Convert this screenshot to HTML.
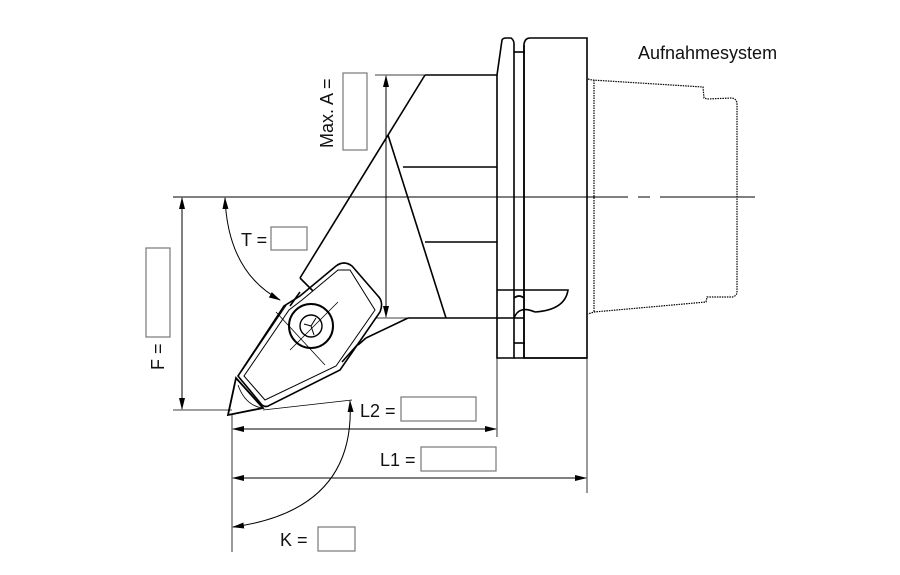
<!DOCTYPE html>
<html><head><meta charset="utf-8"><style>
html,body{margin:0;padding:0;background:#fff;}
svg{display:block;}
text{font-family:"Liberation Sans","DejaVu Sans",sans-serif;fill:#111;}
</style></head><body>
<svg width="900" height="575" viewBox="0 0 900 575" xmlns="http://www.w3.org/2000/svg">
<defs>
<marker id="a" markerWidth="12" markerHeight="6" refX="11" refY="3" orient="auto-start-reverse" markerUnits="userSpaceOnUse">
<path d="M0,0 L12,3 L0,6 z" fill="#000"/></marker>
</defs>
<g fill="none" stroke="#000" stroke-width="1">
<line x1="173" y1="197" x2="628" y2="197"/>
<line x1="638" y1="197" x2="650" y2="197"/>
<line x1="660" y1="197" x2="755" y2="197"/>
<g stroke-width="1.6">
<path d="M497,358 L497,75 L502,40 Q503,38 506,38 L511,38 Q514,40 514,44 L514,358 Z"/>
<line x1="514" y1="52" x2="525" y2="52"/>
<line x1="514" y1="343" x2="525" y2="343"/>
<line x1="524" y1="45" x2="524" y2="358"/>
<path d="M524,358 L524,44 Q525,38 530,38 L587,38 L587,358 Z"/>
<line x1="514" y1="358" x2="587" y2="358"/>
<path d="M497,290 L568,290 Q565,310 535,312"/>
<path d="M514,298 Q519,294 524,298"/>
<line x1="497" y1="318" x2="524" y2="318"/>
<path d="M514,318 Q519,305 535,312"/>
<line x1="425" y1="75" x2="497" y2="75"/>
<line x1="425" y1="75" x2="300" y2="278"/>
<line x1="388" y1="135" x2="446" y2="318"/>
<line x1="403" y1="167" x2="497" y2="167"/>
<line x1="425" y1="242" x2="497" y2="242"/>
<line x1="408" y1="318" x2="497" y2="318"/>
<line x1="408" y1="318" x2="366" y2="338"/>
<line x1="300" y1="278" x2="313" y2="291"/>
<line x1="366" y1="338" x2="358" y2="345"/>
<path d="M238,376 L262,405 Q266,408 270,405 L340,370 L380,312 Q384,302 378,296 L352,266 Q344,260 336,266 L300,296 L284,306 Z"/>
<path d="M244,376 L265,400 L336,366 L375,310 L350,270 L338,270 L302,300 L289,310 Z" stroke-width="1"/>
<path d="M287,304 L241,372" stroke-width="1"/>
<path d="M300,292 L290,306 M358,344 L342,362"/>
<path d="M228,415 L236,378 L263,408 Z" stroke-width="1.8"/>
</g>
<circle cx="311" cy="326" r="22" stroke-width="2"/>
<circle cx="311" cy="326" r="11" stroke-width="1.4"/>
<path d="M304,324 L311,326 L316,318 M311,326 L314,335" />
<line x1="290" y1="350" x2="338" y2="302" stroke-width="0.8"/>
<line x1="276" y1="312" x2="325" y2="365" stroke-width="0.8"/>
<path d="M238,385 Q245,405 262,408" stroke-width="0.8"/>
<g stroke-dasharray="1.5,1" stroke-width="1.2">
<path d="M588,79 L592,80 L703,87 L704,98 L707,99 L732,98 Q737,99 737,104 L737,292 Q737,296 732,297 L707,297 L706,302 L594,312 L588,314"/>
<line x1="594" y1="80" x2="594" y2="312"/>
</g>
<line x1="375" y1="75" x2="425" y2="75" stroke-width="0.8"/>
<line x1="375" y1="318" x2="408" y2="318" stroke-width="0.8"/>
<line x1="386" y1="76" x2="386" y2="317" marker-start="url(#a)" marker-end="url(#a)"/>
<line x1="173" y1="410" x2="232" y2="410" stroke-width="0.8"/>
<line x1="182" y1="198" x2="182" y2="409" marker-start="url(#a)" marker-end="url(#a)"/>
<path d="M225,198 Q228,272 280,300" marker-start="url(#a)" marker-end="url(#a)"/>
<line x1="263" y1="410" x2="352" y2="400" stroke-width="0.8"/>
<line x1="232" y1="415" x2="232" y2="552" stroke-width="0.8"/>
<line x1="497" y1="358" x2="497" y2="437" stroke-width="0.8"/>
<line x1="587" y1="358" x2="587" y2="493" stroke-width="0.8"/>
<line x1="233" y1="429" x2="496" y2="429" marker-start="url(#a)" marker-end="url(#a)"/>
<line x1="233" y1="478" x2="586" y2="478" marker-start="url(#a)" marker-end="url(#a)"/>
<path d="M350,401 Q356,510 233,527" marker-start="url(#a)" marker-end="url(#a)"/>
<g stroke="#777" stroke-width="1.2">
<rect x="343" y="73" width="24" height="77"/>
<rect x="146" y="248" width="24" height="89"/>
<rect x="271" y="227" width="36" height="23"/>
<rect x="401" y="397" width="75" height="24"/>
<rect x="421" y="447" width="75" height="24"/>
<rect x="318" y="527" width="37" height="24"/>
</g>
</g>
<text x="638" y="59" font-size="18">Aufnahmesystem</text>
<text x="241" y="246" font-size="18">T =</text>
<text x="360" y="417" font-size="18">L2 =</text>
<text x="380" y="466" font-size="18">L1 =</text>
<text x="280" y="546" font-size="18">K =</text>
<text transform="translate(333,148) rotate(-90)" font-size="18">Max. A =</text>
<text transform="translate(164,370) rotate(-90)" font-size="18">F =</text>
</svg>
</body></html>
